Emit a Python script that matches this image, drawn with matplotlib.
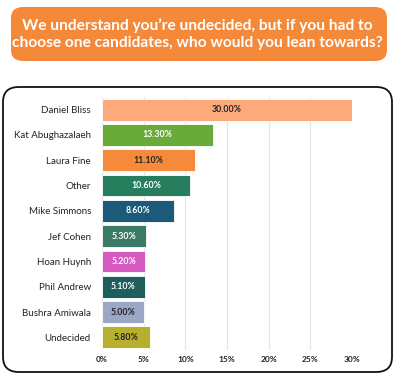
import matplotlib.pyplot as plt
from matplotlib.patches import FancyBboxPatch

candidates = ['Daniel Bliss', 'Kat Abughazalaeh', 'Laura Fine', 'Other', 'Mike Simmons',
              'Jef Cohen', 'Hoan Huynh', 'Phil Andrew', 'Bushra Amiwala', 'Undecided']
shares = [30.0, 13.3, 11.1, 10.6, 8.6, 5.3, 5.2, 5.1, 5.0, 5.8]
bar_colors = ['#FCAA7C', '#6AAA3A', '#F58A3A', '#277E5E', '#1B5A78',
              '#3C7A68', '#D65BC0', '#1E5F5E', '#9AA7C5', '#B8AF30']
label_colors = ['#222222', 'white', '#222222', 'white', 'white',
                'white', 'white', 'white', '#222222', '#222222']
ticks = [0, 5, 10, 15, 20, 25, 30]
title = "We understand you\u2019re undecided, but if you had to\nchoose one candidates, who would you lean towards?"

plt.rcParams['font.family'] = ['Lato', 'DejaVu Sans']

fig = plt.figure(figsize=(3.95, 3.76), dpi=100)

# orange header box and the outlined card (kept behind the axes)
fig.patches.append(FancyBboxPatch((11 / 395, 1 - 61 / 376), 376 / 395, 54 / 376,
                                  boxstyle='round,pad=0,rounding_size=0.03',
                                  transform=fig.transFigure, facecolor='#F5893A',
                                  edgecolor='none', zorder=-2))
fig.patches.append(FancyBboxPatch((3 / 395, 1 - 372 / 376), 389 / 395, 285 / 376,
                                  boxstyle='round,pad=0,rounding_size=0.04',
                                  transform=fig.transFigure, facecolor='white',
                                  edgecolor='#111111', linewidth=1.3, zorder=-2))
fig.text(0.5, 1 - 34 / 376, title, ha='center', va='center', color='white',
         fontsize=11.2, fontweight='bold', linespacing=1.25)

ax = fig.add_axes([102 / 395, 1 - 350 / 376, 250 / 395, 253 / 376])
ax.set_facecolor('none')
y = range(len(candidates))
ax.barh(y, shares, height=0.86, color=bar_colors, edgecolor='white', linewidth=0.6, zorder=2)
for i, v in enumerate(shares):
    ax.text(v / 2, i, f'{v:.2f}%', ha='center', va='center', fontsize=6.3,
            fontweight='bold', color=label_colors[i], zorder=3)

ax.set_xlim(0, 30)
ax.set_ylim(9.5, -0.5)
ax.set_xticks(ticks)
ax.set_xticklabels([f'{t}%' for t in ticks])
ax.set_yticks(list(y))
ax.set_yticklabels(candidates)
ax.tick_params(axis='y', length=0, pad=8, labelsize=7, labelcolor='#222222')
ax.tick_params(axis='x', length=0, pad=4, labelsize=6, labelcolor='#222222')
for lab in ax.get_xticklabels():
    lab.set_fontweight('bold')
ax.grid(axis='x', color='#E4E4E4', linewidth=0.8, zorder=0)
for s in ax.spines.values():
    s.set_visible(False)

fig.savefig('out.png', dpi=100)
